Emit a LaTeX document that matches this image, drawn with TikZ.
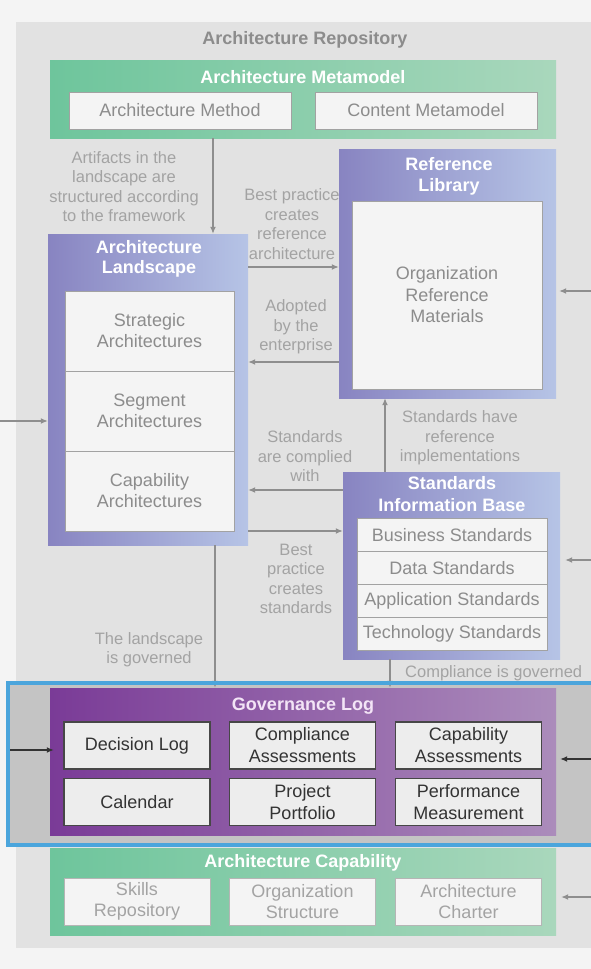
\documentclass[tikz,border=0pt]{standalone}
\usepackage{fontspec}
\setmainfont{Liberation Sans}
\usetikzlibrary{arrows.meta, positioning, calc}

\definecolor{pagebg}{HTML}{F4F4F4}
\definecolor{panelgray}{HTML}{E2E2E2}
\definecolor{hlgray}{HTML}{C4C4C4}
\definecolor{hlblue}{HTML}{4BA5DC}
\definecolor{greenL}{HTML}{6EC59C}
\definecolor{greenR}{HTML}{A9D7BC}
\definecolor{blueL}{HTML}{8884C1}
\definecolor{blueR}{HTML}{B6C4E6}
\definecolor{govL}{HTML}{7A3B97}
\definecolor{govR}{HTML}{AB8CBB}
\definecolor{govtitle}{HTML}{F3E4F6}
\definecolor{boxfill}{HTML}{F4F4F4}
\definecolor{boxedge}{HTML}{A2A2A2}
\definecolor{itemtext}{HTML}{8C8C8C}
\definecolor{notetext}{HTML}{A3A3A3}
\definecolor{arrowgray}{HTML}{8E8E8E}
\definecolor{arrowdark}{HTML}{333333}

\begin{document}
\begin{tikzpicture}[
    x=1pt, y=-1pt,
    every node/.style={font=\fontsize{18}{21}\selectfont, inner sep=0pt},
    title/.style={font=\fontsize{18}{20.5}\selectfont\bfseries, text=white, align=center},
    note/.style={font=\fontsize{16.5}{19.5}\selectfont, text=notetext, align=center},
    greenbox/.style={left color=greenL, right color=greenR, minimum width=506},
    bluebox/.style={left color=blueL, right color=blueR},
    itembox/.style={draw=boxedge, fill=boxfill, text=itemtext, align=center, line width=0.8pt},
    stdbox/.style={itembox, minimum width=190, minimum height=33},
    landitem/.style={itembox, minimum width=169, minimum height=80},
    logitem/.style={draw=arrowdark!90, fill=gray!14, text=black!80, align=center, line width=1.2pt,
        minimum width=146, minimum height=47, font=\fontsize{18}{22}\selectfont},
    capitem/.style={itembox, draw=boxedge!80, text=notetext, minimum width=146, minimum height=47,
        font=\fontsize{18}{21}\selectfont},
    arr/.style={draw=arrowgray, line width=1.3pt, -{Latex[length=7pt, width=6pt]}},
    darkarr/.style={arr, draw=arrowdark}
]
    \useasboundingbox (0,0) rectangle (591,969);
    \fill[pagebg] (0,0) rectangle (591,969);
    \fill[panelgray] (16,22) rectangle (591,948);
    \fill[hlgray] (8,683) rectangle (596,845);

    \coordinate (leftedge) at (0,0);
    \coordinate (rightedge) at (591,0);

    \node[title, text=itemtext] (repo) at (305,40) {Architecture Repository};

    % notes beside the connectors
    \node[note] (artifacts) at (124,186.5) {Artifacts in the\\landscape are\\structured according\\to the framework};
    \node[note] (bestref) at (292,224) {Best practice\\creates\\reference\\architecture};
    \node[note] (adopted) at (296,327) {Adopted\\by the\\enterprise};
    \node[note] (stdhave) at (460,438) {Standards have\\reference\\implementations};
    \node[note] (complied) at (305,456.5) {Standards\\are complied\\with};
    \node[note] (beststd) at (296,579) {Best\\practice\\creates\\standards};
    \node[note] (landgov) at (149,649.5) {The landscape\\is governed};
    \node[note, anchor=west] (compgov) at (405,673) {Compliance is governed};

    % metamodel
    \node[greenbox, minimum height=78] (mmodel) at (303,99) {};
    \node[title] (mmtitle) at (303,77) {Architecture Metamodel};
    \node[itembox, minimum width=222, minimum height=37] (method) at (180,110.5) {Architecture Method};
    \node[itembox, minimum width=222, minimum height=37] (content) at (426,110.5) {Content Metamodel};

    % landscape
    \node[bluebox, minimum width=200, minimum height=311] (land) at (148,389.5) {};
    \node[title] (landtitle) at (149,259) {Architecture\\Landscape};
    \node[landitem] (strategic) at (149.5,331) {Strategic\\Architectures};
    \node[landitem] (segment) at (149.5,411) {Segment\\Architectures};
    \node[landitem] (capability) at (149.5,491) {Capability\\Architectures};

    % reference library
    \node[bluebox, minimum width=217, minimum height=249] (reflib) at (447.5,273.5) {};
    \node[title] (reftitle) at (449,176.5) {Reference\\Library};
    \node[itembox, minimum width=190, minimum height=188, font=\fontsize{18}{21.5}\selectfont] (orgref) at (447,295) {Organization\\Reference\\Materials};

    % standards information base
    \node[bluebox, minimum width=217, minimum height=187] (sib) at (451.5,565.5) {};
    \node[title, font=\fontsize{18}{22}\selectfont\bfseries] (sibtitle) at (452,494) {Standards\\Information Base};
    \node[stdbox] (business) at (452,535) {Business Standards};
    \node[stdbox] (data) at (452,568) {Data Standards};
    \node[stdbox] (application) at (452,601) {Application Standards};
    \node[stdbox] (technology) at (452,634) {Technology Standards};

    % governance log
    \node[left color=govL, right color=govR, minimum width=506, minimum height=147] (govlog) at (303,761.5) {};
    \node[title, text=govtitle] (govtitle) at (303,706) {Governance Log};
    \node[logitem] (decision) at (137,745.5) {Decision Log};
    \node[logitem] (compliance) at (302.5,745.5) {Compliance\\Assessments};
    \node[logitem] (capassess) at (468.5,745.5) {Capability\\Assessments};
    \node[logitem] (calendar) at (137,802) {Calendar};
    \node[logitem] (portfolio) at (302.5,802) {Project\\Portfolio};
    \node[logitem] (performance) at (468.5,802) {Performance\\Measurement};

    % architecture capability
    \node[greenbox, minimum height=87] (archcap) at (303,891.5) {};
    \node[title] (captitle) at (303,863) {Architecture Capability};
    \node[capitem] (skills) at (137,901.5) {Skills\\Repository};
    \node[capitem] (orgstruct) at (302.5,901.5) {Organization\\Structure};
    \node[capitem] (charter) at (468.5,901.5) {Architecture\\Charter};

    % connectors
    \draw[arr] ([xshift=65]land.north |- mmodel.south) -- ([xshift=65]land.north);
    \draw[arr] ([yshift=122.5]land.east) -- ([yshift=122.5]land.east -| reflib.west);
    \draw[arr] ([yshift=27.5]land.east -| reflib.west) -- ([yshift=27.5]land.east);
    \draw[arr] ([xshift=-66.5]sib.north) -- ([xshift=-66.5]sib.north |- reflib.south);
    \draw[arr] ([yshift=75.5]sib.west) -- ([yshift=75.5]sib.west -| land.east);
    \draw[arr] ([yshift=34.5]sib.west -| land.east) -- ([yshift=34.5]sib.west);
    \draw[arr] ([xshift=67]land.south) -- ([xshift=67]land.south |- govlog.north);
    \draw[arr] ([xshift=-61.5]sib.south) -- ([xshift=-61.5]sib.south |- govlog.north);

    \draw[arr] ([yshift=-31.5]land.west -| leftedge) -- ([yshift=-31.5]land.west);
    \draw[arr, shorten >=3] ([yshift=-17.5]reflib.east -| rightedge) -- ([yshift=-17.5]reflib.east);
    \draw[arr, shorten >=5] ([yshift=5.5]sib.east -| rightedge) -- ([yshift=5.5]sib.east);
    \draw[arr, shorten >=5] ([yshift=-5.5]archcap.east -| rightedge) -- ([yshift=-5.5]archcap.east);
    \draw[darkarr] ([yshift=11.5,xshift=10]govlog.west -| leftedge) -- ([yshift=11.5,xshift=4]govlog.west);
    \draw[darkarr, shorten >=4] ([yshift=2.5]govlog.east -| rightedge) -- ([yshift=2.5]govlog.east);

    % highlight frame
    \draw[hlblue, line width=4] (8,683) rectangle (596,845);
\end{tikzpicture}
\end{document}
